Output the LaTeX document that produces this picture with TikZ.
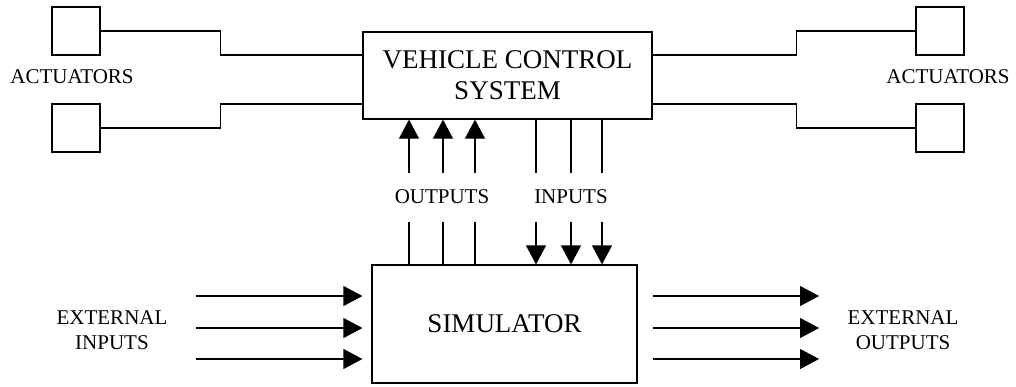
\documentclass[tikz,border=0pt]{standalone}
\usepackage{fontspec}
\setmainfont{Liberation Serif}
\usetikzlibrary{arrows.meta}

\begin{document}
\begin{tikzpicture}[x=1pt,y=-1pt,line width=1.2pt,
  box/.style={draw,rectangle,align=center},
  act/.style={draw,rectangle,minimum size=48pt,inner sep=0pt},
  lbl/.style={align=center,font=\fontsize{21}{25}\selectfont},
  arr/.style={-{Triangle[length=19pt,width=20pt]}}]
  \useasboundingbox (0,0) rectangle (1016,386);
  \node [box,minimum width=289pt,minimum height=87pt,font=\fontsize{27}{31}\selectfont]
    (vcs) at (507.5,75.5) {VEHICLE CONTROL\\SYSTEM};
  \node [box,minimum width=265pt,minimum height=118pt,font=\fontsize{27}{31}\selectfont]
    (sim) at (504.5,324) {SIMULATOR};
  \node [act] (la) at (76,31) {};
  \node [act] (lb) at (76,128) {};
  \node [act] (ra) at (940,31) {};
  \node [act] (rb) at (940,128) {};
  \node [lbl] (lact) at (72,77) {ACTUATORS};
  \node [lbl] (ract) at (948,77) {ACTUATORS};
  \node [lbl] (outs) at (442,197) {OUTPUTS};
  \node [lbl] (ins) at (571,197) {INPUTS};
  \node [lbl] (extin) at (112,330) {EXTERNAL\\INPUTS};
  \node [lbl] (extout) at (903,330) {EXTERNAL\\OUTPUTS};
  % actuator wiring
  \draw (la.east) -- ++(120,0) |- ([yshift=20.5pt]vcs.west);
  \draw (lb.east) -- ++(120,0) |- ([yshift=-28.5pt]vcs.west);
  \draw ([yshift=20.5pt]vcs.east) -- ++(144,0) |- (ra.west);
  \draw ([yshift=-28.5pt]vcs.east) -- ++(144,0) |- (rb.west);
  % outputs and inputs
  \foreach \x [count=\i] in {409,443,475} {
    \coordinate (oa\i) at (\x,173);
    \coordinate (ob\i) at (\x,222);
    \draw [arr] (oa\i) -- (oa\i |- vcs.south);
    \draw (sim.north -| ob\i) -- (ob\i);
  }
  \foreach \x [count=\i] in {536,571,602} {
    \coordinate (ia\i) at (\x,173);
    \coordinate (ib\i) at (\x,222);
    \draw (vcs.south -| ia\i) -- (ia\i);
    \draw [arr] (ib\i) -- (ib\i |- sim.north);
  }
  % external signals
  \foreach \y [count=\i] in {296,328,359} {
    \coordinate (ei\i) at (196,\y);
    \coordinate (eo\i) at (819,\y);
    \draw [arr,shorten >=9pt] (ei\i) -- (ei\i -| sim.west);
    \draw [arr,shorten <=15pt] (sim.east |- eo\i) -- (eo\i);
  }
\end{tikzpicture}
\end{document}
